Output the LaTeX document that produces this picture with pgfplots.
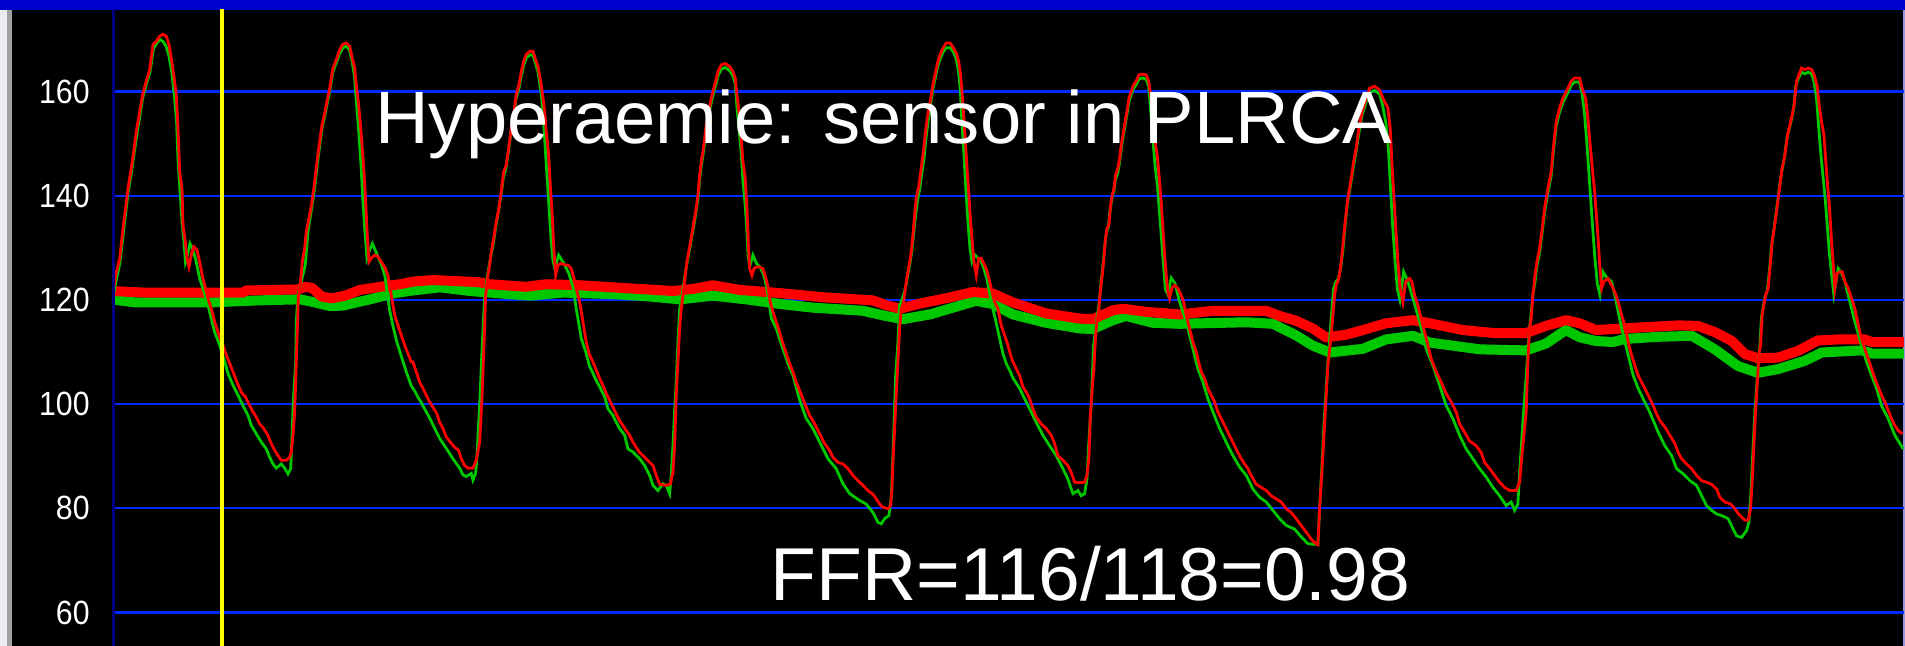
\documentclass[border=0pt]{standalone}
\usepackage{fontspec}
\setmainfont{Liberation Sans}
\newfontfamily\tickfam[FakeStretch=0.9]{Liberation Sans}
\usepackage{pgfplots}
\pgfplotsset{compat=1.18}
\definecolor{topblue}{RGB}{0,0,204}
\definecolor{gridblue}{RGB}{0,40,255}
\definecolor{navyline}{RGB}{0,0,128}
\definecolor{tred}{RGB}{255,0,0}
\definecolor{tgreen}{RGB}{0,200,0}
\definecolor{tyellow}{RGB}{255,255,0}
\definecolor{leftwhite}{RGB}{236,236,244}
\definecolor{leftgray}{RGB}{160,160,160}
\definecolor{rightedge}{RGB}{150,150,220}
\newcommand{\tickfont}{\tickfam\fontsize{16.8pt}{17pt}\selectfont}
\newcommand{\titlefont}{\fontsize{37.1pt}{40pt}\selectfont}
\newcommand{\ffrfont}{\fontsize{37.5pt}{40pt}\selectfont}
\begin{document}
\begin{tikzpicture}
\fill[black] (0,0) rectangle (952.5pt,323pt);
\fill[topblue] (0,318pt) rectangle (952.5pt,323pt);
\fill[leftwhite] (0,0) rectangle (3.5pt,318pt);
\fill[leftgray] (3.5pt,0) rectangle (6pt,318pt);
\fill[rightedge] (951.6pt,0) rectangle (952.5pt,318pt);
\begin{axis}[
  at={(56pt,0pt)}, anchor=south west,
  scale only axis, width=896pt, height=318pt,
  xmin=112, xmax=1904, ymin=53.57, ymax=175.64,
  axis line style={draw=none},
  xtick=\empty,
  ytick={60,80,100,120,140,160},
  yticklabels={60,80,100,120,140,160},
  tick style={draw=none},
  major tick length=0pt,
  ymajorgrids,
  grid style={gridblue, line width=1.15pt},
  yticklabel style={font=\tickfont, text=white, anchor=east, inner sep=0pt, xshift=-11pt},
  clip=true,
]
% thick mean lines
\addplot[tgreen, line width=5pt, line join=round] coordinates {
(112,120.1) (135,119.5) (210,119.5) (258,119.9) (300,120.1) (315,119.5) (330,118.8) (343,118.9) (370,120.1) (395,121.3) (413,121.8) (440,122.4) (470,121.7) (496,121.3) (530,120.8) (563,121.4) (613,121.1) (646,120.7) (680,120.1) (713,120.8) (746,120.1) (780,119.2) (813,118.5) (863,117.9) (886,116.9) (903,116.3) (930,117.2) (953,118.5) (976,119.8) (993,119.2) (1013,117.2) (1046,115.6) (1080,114.5) (1093,114.4) (1113,116.1) (1126,116.9) (1153,115.6) (1180,115.4) (1246,115.7) (1273,115.4) (1296,113.2) (1313,111.2) (1330,109.9) (1363,110.6) (1386,112.4) (1413,113.1) (1430,111.8) (1480,110.5) (1526,110.3) (1546,111.6) (1566,114.2) (1580,112.8) (1596,112.1) (1613,111.9) (1625,112.5) (1658,112.9) (1692,113.1) (1715,110.5) (1738,107.3) (1758,106) (1778,106.7) (1805,108.3) (1822,109.9) (1862,110.3) (1872,109.7) (1905,109.7)
};
\addplot[tred, line width=5pt, line join=round] coordinates {
(112,121.7) (143,121.4) (243,121.4) (246,121.8) (298,122) (305,122.5) (312,122.3) (322,120.6) (332,120.3) (345,120.8) (360,121.9) (380,122.5) (400,123) (413,123.5) (433,123.8) (478,123.4) (490,123) (526,122.5) (546,123) (580,122.8) (630,122.2) (673,121.7) (693,122.1) (713,122.8) (740,121.9) (780,121.3) (823,120.5) (873,119.9) (886,119) (900,118.3) (920,119.3) (946,120.3) (973,121.5) (993,121.2) (1013,119.5) (1046,117.4) (1080,116.4) (1093,116.3) (1113,118) (1123,118.3) (1146,117.7) (1180,117.2) (1213,117.9) (1266,117.9) (1280,116.9) (1296,116) (1313,114.5) (1326,112.8) (1346,113.3) (1363,114.2) (1386,115.5) (1413,116.1) (1430,115.5) (1463,114.2) (1496,113.6) (1526,113.6) (1546,115) (1566,116.1) (1580,115.5) (1596,114.2) (1640,114.7) (1678,115.1) (1698,115) (1715,113.8) (1732,112.1) (1745,109.6) (1758,108.8) (1778,108.9) (1798,110.2) (1818,112.2) (1838,112.4) (1865,112.4) (1872,111.9) (1905,111.9)
};
% thin green trace
\addplot[tgreen, line width=1.4pt] coordinates {
(114,121.5) (116,123.5) (120,127.2) (123.5,133) (128,140.5) (131.5,144.5) (134,148) (137,151.8) (140,155.5) (143,159) (146.5,161.5) (150,163.7) (153.5,168.2) (156.5,169.2) (160,170) (163,169.6) (166,168.7) (169,166.8) (172,163.4) (174,159.8) (176.5,154.6) (178,147) (180,141) (182,135) (184,131) (185.5,127.3) (188,129) (190,130.8) (193,129.6) (196,127.5) (199.7,124.1) (203,122.2) (208,119) (211.3,116.4) (214.7,113.8) (219.7,111.3) (224.7,108.1) (228,105.9) (233,103.6) (238,101.7) (243,99.7) (248,97.8) (251.3,95.9) (256.3,94.3) (261.3,92.7) (266.3,91.4) (269.7,89.8) (273,88.5) (276.3,87.7) (281.3,88.5) (284.7,87.7) (288,86.6) (290.7,87.6) (292.3,95.3) (293.3,100.4) (295.7,108.1) (296.3,115.8) (298,120.9) (301.3,123.5) (305.3,126.7) (308,133.1) (312,138) (314.7,141.5) (317,145.5) (319.7,149.5) (322,153) (324.7,155.2) (327,157.5) (329.7,160) (333,163.8) (336.3,165.5) (339.7,167.3) (343,168.4) (346.3,168.7) (349.7,167.9) (352.3,165.6) (354.5,163) (356,159) (358.5,153) (361,146) (363,139) (365,133) (367,128) (369.5,129.5) (372.5,130.8) (376,129.2) (379,127.8) (382,126.5) (385,124.5) (389.7,118) (393,115) (396.7,112) (400,110) (403.3,108) (406.7,106) (411.3,103.5)
(414.7,102.5) (418,101.3) (421.3,100.3) (426.3,98.5) (429.7,97.3) (433,96) (439.7,93.4) (446.3,91.5) (453,89.5) (459.7,87.7) (463,86.4) (466.3,86.1) (471.3,86.7) (473,85.4) (475.7,86.7) (477,89.8) (478.3,95) (480,101) (481.5,108) (483,114) (484.5,120) (487,124) (489,126.3) (491,128.5) (493.5,131) (496,134.3) (498.5,137) (501,140) (503.5,143.6) (506,145.3) (508.5,148.5) (511,152.2) (513.5,154.8) (516,158.6) (519,160.6) (521.3,163) (523.7,165) (526.3,166.4) (529.7,167) (533,167) (535.7,165.3) (538,163.8) (541,160) (543,156) (545,150) (547,144) (549,138) (551,132) (553,127.5) (555,126) (558.7,128.6) (564.7,126.7) (569,125) (573,122.5) (576.3,118.3) (581.3,112.6) (586.3,109.7) (589.7,107.2) (593,105.9) (596.3,104.5) (599.7,103.3) (604.7,101.4) (608,99.1) (613,97.8) (616.3,96.5) (619.7,95.3) (624.7,94) (628,91.4) (633,90.8) (639.7,89.5) (644.7,88.2) (649.7,86.3) (653,84.4) (658,83.4) (663,84.7) (666.3,84.4) (669.7,82.8) (671.3,86.3) (673,92) (674.5,98) (676.3,104.5) (678,112) (679.7,118.3) (682,121) (684.5,124) (686.5,126.5) (688.5,128.5) (690.5,130.5) (692,132.4) (694,134.3) (696,136.8) (698,139.3) (699.7,143.2) (701.3,145.7) (703,147.7) (704.7,150.2) (706.3,152.8) (708.7,155.4) (711.3,157.9) (713,159.2) (715.7,161.2) (718,163) (721.3,164.3) (725.3,164.6) (729.7,164) (733,163) (735.3,161.5) (737,157) (739,153) (741.3,148) (743,143) (745.3,138) (747,133) (748.3,128) (750,126.5) (753,128.6) (756.5,127) (760,126.3) (763.5,125) (766,123) (768.5,120.5) (771.3,116.5) (776.3,114.5) (783,110.6) (788,107.8) (793,105.5) (799.7,100.8) (806.3,97.2) (813,95.3) (819.7,92.7) (828,89.5) (836.3,87.6) (843,84.7) (849.7,82.8) (859.7,81.5) (866.3,80.8) (873,79.2) (878,77.3) (881.3,77) (884.7,78) (889,78.6) (891.3,82) (893,90) (895.7,105.5) (898,111.9) (899.7,119) (902,120) (904.5,121.5) (906.3,123) (908,125) (910,127) (912,129.5) (913.5,132.4) (915.5,136) (917.5,139) (920,141.5) (922,144.5) (924,147) (926,151) (928,154) (930,156.5) (933,160.5) (935.7,163) (938,165) (940.3,166.3) (943,167.5) (946.3,168.4) (950.3,168.4) (953.7,167.5) (956.3,166.2) (958.5,164) (960.5,160) (962,154) (964,148) (966,141) (968,135) (970,130) (972,127.3) (975,128.6) (978,128) (981,127.5) (984,126) (987,124) (990,121) (993,118.2) (996,115.8) (999.7,112.6) (1003,109.7) (1006.3,107.8) (1009.7,106.5)
(1013,105) (1019.7,103) (1024.7,101) (1029.7,99.1) (1036.3,96.5) (1043,94) (1049.7,92) (1056.3,90.1) (1063,87.6) (1068,85.6) (1073,82.8) (1078,83.4) (1081.3,82.4) (1084.7,82.8) (1087,85.6) (1088.7,92) (1091.3,100) (1093.7,111.3) (1096.3,115.5) (1099,119) (1101.3,123.5) (1103,126.5) (1104.7,130) (1106.5,133) (1108.5,134) (1110,137) (1112,139.5) (1114,141) (1115.5,143) (1118,144.5) (1119.7,146.5) (1121.3,149) (1123,151) (1124.7,153) (1127,155.5) (1129,158) (1131.3,159.4) (1133.7,160.6) (1136.3,161.3) (1139,162.4) (1143,162.6) (1146.3,162.3) (1148.7,161) (1150.5,157) (1152.5,152) (1155,146) (1157.5,142) (1159.5,137) (1161.5,132) (1163.5,127) (1165.5,122) (1168,121) (1171.3,124.2) (1175,123.2) (1179.7,119.6) (1186.3,115.8) (1193,110.6) (1198,106.8) (1203,104.2) (1208,101) (1213,98.5) (1219.7,95.3) (1226.3,92.7) (1233,90.1) (1239.7,87.9) (1246.3,86.3) (1253,83.7) (1259.7,82.1) (1266.3,81.2) (1273,79.6) (1279.7,78) (1286.3,76.7) (1294.7,76) (1301.3,74.5) (1308,73.2) (1313,73.1) (1318,73.1) (1319.7,80) (1322,88) (1324.3,97) (1328,108) (1331.3,116.4) (1333.7,122.2) (1336,123.5) (1338.5,124) (1341,126.5) (1343,129.5) (1345,134) (1347.5,138.5) (1351,142.5) (1353.5,145.5) (1356,148.3) (1359,152) (1362.3,155.5) (1366.3,158) (1369.7,159.8) (1374.7,160.2) (1379.7,159.5) (1382.5,157.5) (1386,154) (1388.5,149) (1390.5,142) (1392.5,135) (1395,128) (1397.5,122) (1400,120) (1403.7,125.4) (1408,123.5) (1413,120.3) (1419.7,115.8) (1426.3,110.6) (1433,107.4) (1439.7,103.6) (1446.3,99.7) (1453,97.2) (1459.7,94) (1466.3,91.4) (1473,89.5) (1479.7,87.6) (1486.3,86) (1493,84) (1499.7,82.4) (1506.3,80.5) (1511.3,81.2) (1514.7,79.6) (1518,80.8) (1519.7,86.9) (1523,96.5) (1526.3,105.5) (1529.7,114.5) (1533,120.9) (1535,123.3) (1537,126.5) (1539.7,129) (1542.3,133) (1544.7,136.8) (1548,140.6) (1551.3,143.8) (1553.7,148.9) (1556.3,153.4) (1559.7,156) (1563,157.9) (1568,159.8) (1571.3,161.2) (1574.7,161.8) (1579.7,161.8) (1582,159.8) (1584.5,156) (1587,150) (1589.5,143) (1592,136) (1595,128) (1597.5,123) (1600,121) (1603,125.4) (1607,124.2) (1611.7,123.5) (1615,120.9) (1618.3,117.7) (1623.3,113.2) (1628.3,109.4) (1633.3,105.5) (1638.3,103) (1643.3,101) (1648.3,99.1) (1653.3,96.9) (1658.3,94.6) (1665,92) (1671.7,90.1) (1676.7,87.6) (1683.3,86.6) (1690,85.3) (1696.7,84.4) (1701.7,82.4) (1706.7,80.5) (1711.7,79.6) (1716.7,78.9) (1721.7,78.6) (1728.3,78) (1733.3,76) (1736.7,74.7) (1741.7,74.4) (1746.7,75.7) (1749,77.3) (1751,83) (1753.3,92) (1755,98.5) (1756.7,103) (1758.3,108.1) (1760,111) (1761.5,116.5) (1763.3,118.5) (1765,120.5) (1767.5,121.8) (1770,126.5) (1771.7,130.4) (1773.7,133) (1776,136.2) (1777.7,138.8) (1779.3,141.3) (1781.7,144.5) (1784.3,147) (1787,151) (1789.3,152.8) (1791.7,154.7) (1793.7,156.6) (1796,161.2) (1798.3,162.4) (1801.7,163.7) (1805,163.4) (1808.3,163.7) (1811.7,163.4) (1814,162) (1816.5,159) (1818.5,154) (1821,148) (1823.5,143) (1825.5,139) (1827.5,134) (1829.5,129) (1831.7,125) (1834,121) (1838.3,126) (1842,125) (1845,123.5) (1850,119.6) (1855,115.8) (1861.7,111.3) (1866.7,108.1) (1871.7,105.5) (1876.7,103) (1881.7,99.7) (1888.3,97.2) (1895,94) (1903.3,91.4)
};
% thin red trace
\addplot[tred, line width=1.4pt] coordinates {
(114,122.5) (115.7,124.7) (119.7,128) (123,133.7) (128,141.4) (131.3,145.3) (133.7,148.5) (136.3,152.3) (139.7,156.2) (143,159.7) (146.3,162) (149.7,164.2) (153,169) (156.3,169.6) (159.7,170.6) (163,171) (166.3,170.6) (169,169) (171.3,166.4) (173.7,163.2) (176.3,159.4) (178,153) (179.7,144.6) (182,141.4) (183,134.4) (185.3,131.2) (187,128) (189,126.3) (191.3,128.6) (193.7,130.2) (197,129.6) (199.7,127.3) (202.3,124.7) (204.7,122.8) (208,120.3) (211.3,118.3) (214.7,115.8) (219,113.2) (223,111.3) (226.3,109.4) (229.7,107.8) (233,106.2) (237,104.2) (241.3,102.3) (245.7,101.3) (249.7,99.7) (253,98.5) (256.3,97.5) (259.7,96.2) (263.7,95.3) (268,94) (271.3,92.4) (274.7,91.1) (278,90.1) (281.3,89.2) (286.3,89.2) (289.7,89.8)
(291.3,90.8) (293,94) (294.7,98.5) (296.3,108) (297.7,116) (298.3,120.5) (300.3,122.8) (302.3,127.3) (304.7,129.9) (306.3,133.1) (309.7,136.3) (312,138.8) (314.7,142.7) (317,146.5) (319.7,150.4) (322,153.6) (324.7,155.8) (327,158.1) (329.7,160.6) (333,164.5) (336.3,166.1) (339.7,168) (343,169.1) (346.3,169.3) (349.7,168.7) (352.3,166.4) (354.7,164.5) (356.3,161.3) (359,156.8) (361.3,151.7) (363.7,145.3) (365.7,138.8) (367.3,132.4) (369,127.3) (371.3,128) (374.7,128.6) (378,128.3) (381.3,127.3) (384.7,126.3) (388,124.7) (391.3,120.9) (394.7,117.1) (398,115.1) (401.3,113.2) (404.7,111.3) (408,109.7) (411.3,108.1)
(413,108.1) (416.3,106.2) (419.7,104.2) (423,103) (426.3,101.7) (429.7,100.4) (433,99.4) (437,98.1) (439.7,96.5) (443,95.3) (446.3,93.7) (450.3,92.7) (454.7,91.7) (458.7,91.1) (461.3,89.5) (464.7,88.2) (468,87.7) (473,87.7) (476.3,89.2) (479.7,92.7) (482,101) (484,111.3) (485.7,120.9) (488,124.7) (489.7,126.7) (491.3,129.2) (493.7,131.8) (496.3,135) (499,137.6) (501.3,140.8) (503.7,144.6) (506.3,145.9) (508.7,149.1) (511.3,152.9) (513.7,155.5) (516.3,159.4) (519,161.3) (521.3,163.8) (523.7,165.8) (526.3,167.1) (529.7,167.7) (533,167.7) (535.7,166.1) (538,164.8) (541.3,161.3) (544.7,156.2) (546.3,152.3) (548.7,147.8) (550.3,142.1) (552.3,136.3) (553.7,130.5) (555.7,124.7) (558,126.7) (561.3,127) (564.7,126.7) (568,126.7) (571.3,126) (573.7,124.4) (576.3,122.2) (579.7,119.6) (583,115.8) (586.3,111.9) (589.7,109.4) (593,108.1) (596.3,106.5) (599.7,104.9) (603,103.6) (606.3,102) (609.7,100.7) (613,99.4) (616.3,98.1) (619.7,96.8) (623,95.9) (626.3,94.9) (629.7,94) (633,92.7) (636.3,91.7) (639.7,90.7) (643,90.1) (646.3,89.5) (649.7,88.8) (653,88.2) (656.3,86.3) (659.7,84.6) (666.3,84.4) (670.3,84.6) (673,86.9) (674.7,92) (676.3,101.7) (678,108.1) (679.7,114.5) (681.3,118.3) (683,120.9) (685.3,124.7) (687,127.3) (688.7,129.2) (690.7,131.2) (692.3,133.1) (694,135) (696.3,137.6) (698,140.1) (699.7,144) (701.3,146.5) (703,148.5) (704.7,151) (706.3,153.6) (708.7,156.2) (711.3,158.7)
(713,160) (715.7,162) (718,163.8) (721.3,165.1) (725.3,165.4) (729.7,164.8) (733,163.8) (735.3,162.6) (737,159.4) (739,156.2) (741.3,151) (743,146.5) (745.3,143.3) (747,137.6) (748.3,131.2) (749.7,126) (752,124.7) (754,126) (756.3,126.3) (759.7,126.3) (763,126) (765.7,124.4) (768,122.5) (770.3,119.6) (773,117.7) (776.3,115.8) (779.7,113.8) (783,111.6) (786.3,109.7) (789.7,107.8) (793,106.2) (796.3,104.2) (799.7,102.6) (803,101) (806.3,99.4) (809.7,97.8) (813,96.8) (816.3,95.6) (819.7,94.3) (824.7,92.4) (829.7,91.1) (833,89.8) (838,88.8) (843,88.5) (846.3,87.9) (849.7,87.2) (853,86.3) (858,85.3) (863,84.4) (868,83.4) (873,82.7) (876.3,81.8) (879.7,80.8) (883,80.2) (888,79.9) (890.7,80.5) (892,83.7) (893,88.8) (894.7,95.3) (896.3,101.7) (898,108.1) (899.7,114.5) (901.3,118.3) (903,119) (904.7,120.9) (906.3,123.5) (908,125.4) (909.7,127.3) (911.3,129.2) (913,132.4) (914.7,136.3) (916.3,139.5) (919,142) (921.3,145.3) (923,147.8) (925.3,151.7) (927.3,154.9) (929.7,157.4) (933,161.3) (935.7,163.8) (938,165.8) (940.3,167.1) (943,168.3) (946.3,169.3) (950.3,169.3) (953.7,168.3) (956.3,167.4) (958.7,165.8) (960.7,163.2) (962.3,159.4) (963.7,155.5) (965.7,149.7) (967.3,144.6) (969,140.1) (970.7,135) (972.3,131.2) (974,127.3) (976.3,124.7) (978.7,128) (981.3,128) (983.7,127) (986.3,126) (989,124.1) (991.3,122.2) (994.7,119.6) (998,118.3) (1001.3,115.1) (1004.7,113.2) (1008,111.3) (1011.3,109)
(1013,108.1) (1016.3,106.8) (1019.7,105.5) (1023,103.3) (1026.3,102.3) (1029.7,101) (1033,99.1) (1036.3,97.5) (1041.3,96.2) (1046.3,95.3) (1051.3,94) (1054.7,92.4) (1058,90.1) (1063,89.2) (1068,88.2) (1071.3,86.9) (1074.7,85) (1079.7,84.9) (1084.7,85) (1087,86.3) (1089,89.5) (1090.3,97.2) (1092.3,103) (1094,106.8) (1095.7,113.2) (1097,115.8) (1098.7,117.7) (1100.3,121.5) (1102.3,124.7) (1103.7,127.3) (1105.3,131.2) (1107,133.7) (1109,134.4) (1110.7,138.2) (1112.3,140.1) (1114,141.4) (1115.7,144) (1118,145.3) (1119.7,147.2) (1121.3,149.7) (1123,151.7) (1124.7,153.6) (1127,156.2) (1129,158.7) (1131.3,160) (1133.7,161.3) (1136.3,162) (1139,163.2) (1143,163.3) (1146.3,163.2) (1148.7,162) (1150.7,159.4) (1153,155.5) (1155.7,149.7) (1157.3,147.8) (1159.7,142.7) (1161.3,138.8) (1163,133.7) (1164.7,128.6) (1166.3,124.7) (1168,121.5) (1169.7,120.3) (1172,122.2) (1174.7,122.8) (1178,122.2) (1181.3,120.9) (1183.7,119.6) (1186.3,117.1) (1189.7,114.5) (1193,111.9) (1196.3,110) (1198.7,108.1) (1201.3,106.2) (1204.7,104.9) (1208,103) (1211.3,101.7) (1214.7,100.4) (1218,98.5) (1221.3,97.2) (1224.7,95.9) (1228,94.6) (1231.3,93.3) (1234.7,92) (1238,90.7) (1241.3,89.5) (1244.7,88.5) (1248,87.6) (1251.3,86.3) (1256.3,84.6) (1261.3,84) (1266.3,83.4) (1271.3,82.4) (1276.3,81.8) (1281.3,81.2) (1286.3,79.9) (1291.3,79.2) (1296.3,78) (1301.3,76.7) (1306.3,75.4) (1311.3,74.1)
(1314,73.5) (1318,73) (1319.7,80) (1322,86.9) (1325,97.2) (1328,107.4) (1331.3,113.2) (1333,117.1) (1334.7,120.9) (1336.3,122.8) (1339,124.1) (1341.3,127.3) (1343,130.5) (1345.3,135) (1348,139.5) (1351.3,143.3) (1353.7,146.5) (1356.3,149.1) (1359,152.9) (1362.3,156.2) (1366.3,158.7) (1369.7,160.6) (1374.7,161) (1379.7,160.3) (1383,158.7) (1388,156.8) (1390.3,152.9) (1392.3,145.3) (1394.7,137.6) (1398,127.3) (1400.3,122.2) (1403,119.6) (1405.7,123.5) (1409.7,124.1) (1412,123.5) (1414.7,120.9) (1418,119) (1421.3,116.4) (1426.3,112.6) (1431.3,108.7) (1436.3,106.2) (1441.3,104.2) (1446.3,102) (1451.3,100.4) (1456.3,98.5) (1459.7,96.2) (1464.7,94.6) (1469.7,92.9) (1476.3,92) (1481.3,90.7) (1484.7,88.8) (1489.7,87.6) (1494.7,86.3) (1499.7,85) (1504.7,84) (1509.7,83.4) (1516.3,83.4) (1519.7,85) (1522,90.1) (1526.3,98.5) (1528,108.1) (1529.7,114.5) (1531.3,116.4) (1533,120.9) (1534.7,124.1) (1537,127.3) (1539.7,129.9) (1542.3,133.7) (1544.7,137.6) (1548,141.4) (1551.3,144.6) (1553.7,149.7) (1556.3,154.2) (1559.7,156.8) (1563,158.7) (1568,160.6) (1571.3,162) (1574.7,162.6) (1579.7,162.6) (1582.3,160.6) (1585.7,158.7) (1588,154.9) (1590.3,149.7) (1594.7,140.8) (1598,132.4) (1599.7,127.3) (1601.7,122.2) (1604,123.5) (1608,124.1)
(1611.7,122.8) (1615,121.5) (1618.3,119.6) (1621.7,117.1) (1625,115.1) (1628.3,111.9) (1631.7,109.4) (1635,107.4) (1638.3,105.5) (1641.7,104.2) (1645,103) (1648.3,101.7) (1653.3,99.7) (1656.7,98.1) (1660,96.8) (1665,95.6) (1670,94) (1675,92.4) (1678.3,90.7) (1681.7,89.5) (1686.7,88.5) (1691.7,87.6) (1696.7,86.3) (1701.7,85.3) (1706.7,85) (1711.7,84.6) (1716.7,83.7) (1720,82.1) (1725,81.2) (1731,80.8) (1735,79.9) (1738.3,79) (1741.7,78.3) (1745,77.7) (1748.3,77.7) (1750.7,79.9) (1752.3,85) (1754,92) (1755.7,98.5) (1757.7,104.9) (1759,109.4) (1760.7,111.3) (1762.3,117.1) (1764,119) (1765.7,120.9) (1768.3,122.2) (1770.7,127.3) (1772.3,131.2) (1774.3,133.7) (1776.7,136.9) (1778.3,139.5) (1780,142) (1782.3,145.3) (1785,147.8) (1787.7,151.7) (1790,153.6) (1792.3,155.5) (1794.3,157.4) (1796.7,162) (1799,163.2) (1801.7,164.5) (1805,164.2) (1808.3,164.5) (1811.7,164.2) (1814.3,163.2) (1817.3,161) (1819.3,157.4) (1821.7,154.2) (1824,151.7) (1825.7,147.2) (1827.7,142.1) (1829.7,137.6) (1831.7,131.2) (1833.7,126) (1835,122.2) (1837.3,125.1) (1840,125.4) (1842.3,125.4) (1845,123.5) (1848.3,122.2) (1851.7,120.3) (1855,118.3) (1857.7,115.8) (1860,113.8) (1862.7,111.9) (1865,110.6) (1868.3,108.7) (1871.7,106.8) (1875,104.9) (1878.3,103.3) (1881.7,101.7) (1885,100.4) (1888.3,98.8) (1891.7,97.2) (1895,95.9) (1898.3,94.9) (1902.7,94.3)
};
% yellow cursor and navy axis line
\addplot[tyellow, line width=1.6pt] coordinates {(222,50) (222,180)};
\addplot[navyline, line width=1.4pt] coordinates {(113.5,50) (113.5,180)};
\end{axis}
\node[anchor=base west, inner sep=0pt, text=white, font=\titlefont] at (187.5pt,251pt) {Hyperaemie: sensor in PLRCA};
\node[anchor=base west, inner sep=0pt, text=white, font=\ffrfont] at (385.3pt,22.5pt) {FFR=116/118=0.98};
\end{tikzpicture}
\end{document}
